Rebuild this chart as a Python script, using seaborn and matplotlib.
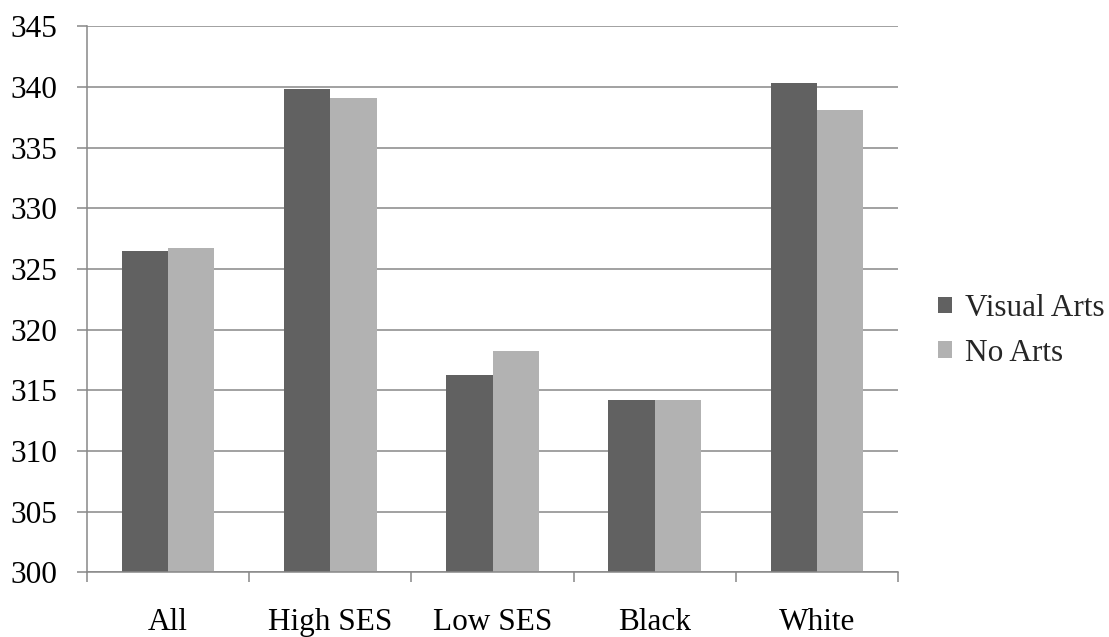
import matplotlib
matplotlib.use("Agg")
import matplotlib.pyplot as plt
from matplotlib.patches import Patch
from matplotlib.ticker import FixedLocator, NullFormatter
import pandas as pd
import seaborn as sns

categories = ["All", "High SES", "Low SES", "Black", "White"]
visual_arts = [326.5, 339.85, 316.3, 314.2, 340.3]
no_arts = [326.7, 339.1, 318.25, 314.2, 338.1]
series_names = ["Visual Arts", "No Arts"]
y_ticks = list(range(300, 346, 5))

colors = ["#616161", "#b2b2b2"]
grid_gray = "#888888"
font_size = 22.5

df = pd.DataFrame({
    "group": categories * 2,
    "score": visual_arts + no_arts,
    "series": [series_names[0]] * len(categories) + [series_names[1]] * len(categories),
})

sns.set_theme(style="white")
plt.rcParams["font.family"] = ["Liberation Serif", "DejaVu Serif"]

fig = plt.figure(figsize=(11.09, 6.37), dpi=100)
ax = fig.add_axes([0.0785, 0.1016, 0.7312, 0.8571])

sns.barplot(data=df, x="group", y="score", hue="series", order=categories,
            hue_order=series_names, palette=colors, width=0.57, gap=0,
            linewidth=0, saturation=1, legend=False, ax=ax)

ax.set_ylim(300, 345)
ax.set_xlim(-0.5, len(categories) - 0.5)
ax.set_yticks(y_ticks)
ax.set_yticklabels([str(v) for v in y_ticks], fontsize=font_size, color="black")
ax.yaxis.grid(True, color=grid_gray, linewidth=1.1)
ax.set_axisbelow(True)

# category labels centred, tick marks at group boundaries
ax.xaxis.set_major_locator(FixedLocator([i - 0.5 for i in range(len(categories) + 1)]))
ax.xaxis.set_major_formatter(NullFormatter())
ax.xaxis.set_minor_locator(FixedLocator(list(range(len(categories)))))
ax.set_xticklabels(categories, minor=True, fontsize=font_size, color="black")
ax.tick_params(axis="x", which="major", direction="out", length=7.5, width=1.1,
               color=grid_gray, bottom=True)
ax.tick_params(axis="x", which="minor", length=0, pad=26, bottom=True)
ax.tick_params(axis="y", direction="out", length=7.5, width=1.1, color=grid_gray,
               pad=14, left=True)

ax.set_xlabel("")
ax.set_ylabel("")
for side in ["top", "right"]:
    ax.spines[side].set_visible(False)
for side in ["left", "bottom"]:
    ax.spines[side].set_color(grid_gray)
    ax.spines[side].set_linewidth(1.1)

handles = [Patch(facecolor=c, edgecolor="none") for c in colors]
fig.legend(handles, series_names, loc="center left", bbox_to_anchor=(0.846, 0.4805),
           frameon=False, fontsize=font_size, handlelength=0.45, handleheight=0.45,
           handletextpad=0.4, labelspacing=0.5, borderaxespad=0, borderpad=0)

fig.savefig("out.png", dpi=100)
